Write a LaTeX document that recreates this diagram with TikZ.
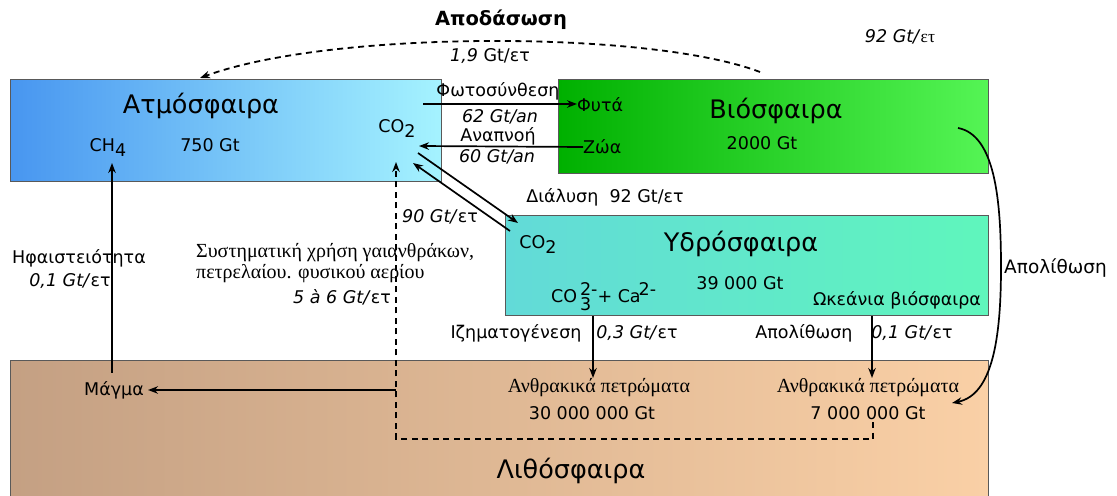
\documentclass[tikz,border=0pt]{standalone}
\usepackage{fontspec}
\setmainfont{DejaVu Sans}
\newfontfamily\serf{Liberation Serif}
\usetikzlibrary{arrows.meta}
\newcommand\lowr[1]{\raisebox{-5bp}{#1}}
\begin{document}
\begin{tikzpicture}[x=1bp,y=-1bp,
  box/.style={draw=black!65, line width=1.4bp, rectangle, anchor=north west, inner sep=0},
  lbl/.style={font=\fontsize{17.5bp}{20bp}\selectfont, inner sep=0},
  ttl/.style={font=\fontsize{25.5bp}{30bp}\selectfont, inner sep=0},
  srf/.style={font=\serf\fontsize{20bp}{21bp}\selectfont, inner sep=0},
  bld/.style={font=\bfseries\fontsize{19.5bp}{22bp}\selectfont, inner sep=0},
  arr/.style={line width=1.7bp, -{Stealth[length=10bp,width=7.5bp]}},
  dsh/.style={line width=1.8bp, dash pattern=on 6bp off 4.5bp}
]
\useasboundingbox (0,0) rectangle (1117,496);
\fill[white] (0,0) rectangle (1117,496);

% boxes
\node[box, left color={rgb,255:red,72;green,150;blue,240}, right color={rgb,255:red,165;green,243;blue,255}, minimum width=431bp, minimum height=102bp] (atm) at (10,79) {};
\node[box, left color={rgb,255:red,0;green,176;blue,0}, right color={rgb,255:red,85;green,245;blue,85}, minimum width=430bp, minimum height=94bp] (bio) at (558,79) {};
\node[box, left color={rgb,255:red,98;green,218;blue,216}, right color={rgb,255:red,95;green,246;blue,188}, minimum width=483bp, minimum height=100bp] (hyd) at (505,215) {};
\node[box, left color={rgb,255:red,196;green,160;blue,131}, right color={rgb,255:red,250;green,208;blue,166}, minimum width=978bp, minimum height=160bp] (lit) at (10,360) {};

% titles
\node[ttl] (tatm) at (201,106) {Ατμόσφαιρα};
\node[ttl] (tbio) at (776,111) {Βιόσφαιρα};
\node[ttl] (thyd) at (741,244) {Υδρόσφαιρα};
\node[ttl] (tlit) at (571,471) {Λιθόσφαιρα};

% atmosphere contents
\node[lbl] (matm) at (210,145) {750 Gt};
\node[lbl] (ch4) at (108,148) {CH\lowr{4}};
\node[lbl] (co2a) at (397,129) {CO\lowr{2}};

% biosphere contents
\node[lbl, anchor=west] (fyta) at (577,105) {Φυτά};
\node[lbl, anchor=west] (zoa) at (583,147) {Ζώα};
\node[lbl] (mbio) at (762,143) {2000 Gt};

% hydrosphere contents
\node[lbl] (co2h) at (538,245) {CO\lowr{2}};
\node[lbl] (mhyd) at (740,283) {39 000 Gt};
\node[lbl, anchor=west] (co3) at (551,297) {CO\,\rlap{\raisebox{-8bp}{3}}\raisebox{7bp}{2-}+ Ca\hspace{-2bp}\raisebox{7bp}{2-}};
\node[lbl] (ocean) at (897,300) {Ωκεάνια βιόσφαιρα};

% lithosphere contents
\node[lbl] (magma) at (114,390) {Μάγμα};
\node[srf] (anth1) at (599,388) {Ανθρακικά πετρώματα};
\node[lbl] (m30) at (592,413) {30 000 000 Gt};
\node[srf] (anth2) at (868,388) {Ανθρακικά πετρώματα};
\node[lbl] (m7) at (868,413) {7 000 000 Gt};

% labels outside
\node[bld] (apod) at (501,20) {Αποδάσωση};
\node[lbl] (r19) at (490,56) {\textit{1,9} Gt/ετ};
\node[lbl] (r92) at (900,37) {\textit{92 Gt/}{\serf ετ}};
\node[lbl] (foto) at (498,91) {Φωτοσύνθεση};
\node[lbl] (r62) at (500,117) {\textit{62 Gt/an}};
\node[lbl] (anap) at (498,136) {Αναπνοή};
\node[lbl] (r60) at (497,157) {\textit{60 Gt/an}};
\node[lbl] (dial) at (605,197) {Διάλυση~ 92 Gt/ετ};
\node[lbl] (r90) at (440,217) {\textit{90 Gt/}ετ};
\node[lbl] (hfa) at (79,258) {Ηφαιστειότητα};
\node[lbl] (r01a) at (70,281) {\textit{0,1 Gt/}ετ};
\node[srf, align=left, anchor=north west] (syst) at (196,243) {Συστηματική χρήση γαιανθράκων,\\πετρελαίου. φυσικού αερίου};
\node[lbl, anchor=east] (r56) at (391,297) {\textit{5 à 6 Gt/}ετ};
\node[lbl] (izim) at (516,333) {Ιζηματογένεση};
\node[lbl] (r03) at (637,333) {\textit{0,3 Gt/}ετ};
\node[lbl] (apol1) at (804,333) {Απολίθωση};
\node[lbl] (r01b) at (912,333) {\textit{0,1 Gt/}ετ};
\node[lbl, anchor=west, font=\fontsize{18.5bp}{20bp}\selectfont] (apol2) at (1004,268) {Απολίθωση};

% coordinates
\coordinate (defs) at (760,72);
\coordinate (defe) at (200,78);
\coordinate (fs) at (423,104);
\coordinate (ze) at (419,146);
\coordinate (da1) at (510,231);
\coordinate (da2) at (413,163);
\coordinate (db1) at (418,153);
\coordinate (db2) at (518,223);
\coordinate (vs) at (112,373);
\coordinate (ve) at (112,163);
\coordinate (fuel) at (396,162);
\coordinate (mgs) at (396,390);
\coordinate (mge) at (148,390);
\coordinate (fb) at (873,422);
\coordinate (corner) at (396,439);
\coordinate (s1s) at (593,316);
\coordinate (s1e) at (593,378);
\coordinate (s2s) at (872,316);
\coordinate (s2e) at (872,378);
\coordinate (ps) at (958,128);
\coordinate (pe) at (952,403);

% connectors
\draw[dsh, -{Stealth[length=10bp,width=7.5bp]}] (defs) .. controls (650,30) and (330,30) .. (defe);
\draw[arr] (fs) -- (fyta.west |- fs);
\draw[arr] (zoa.west) -- (ze);
\draw[arr] (da1) -- (da2);
\draw[arr] (db1) -- (db2);
\draw[arr] (vs) -- (ve);
\draw[dsh, -{Stealth[length=10bp,width=7.5bp]}] (fb) |- (corner) -- (fuel);
\draw[arr] (mgs) -- (mge);
\draw[arr] (s1s) -- (s1e);
\draw[arr] (s2s) -- (s2e);
\draw[arr] (ps) .. controls (995,135) and (1001,200) .. (1001,267) .. controls (1001,340) and (992,395) .. (pe);
\end{tikzpicture}
\end{document}
